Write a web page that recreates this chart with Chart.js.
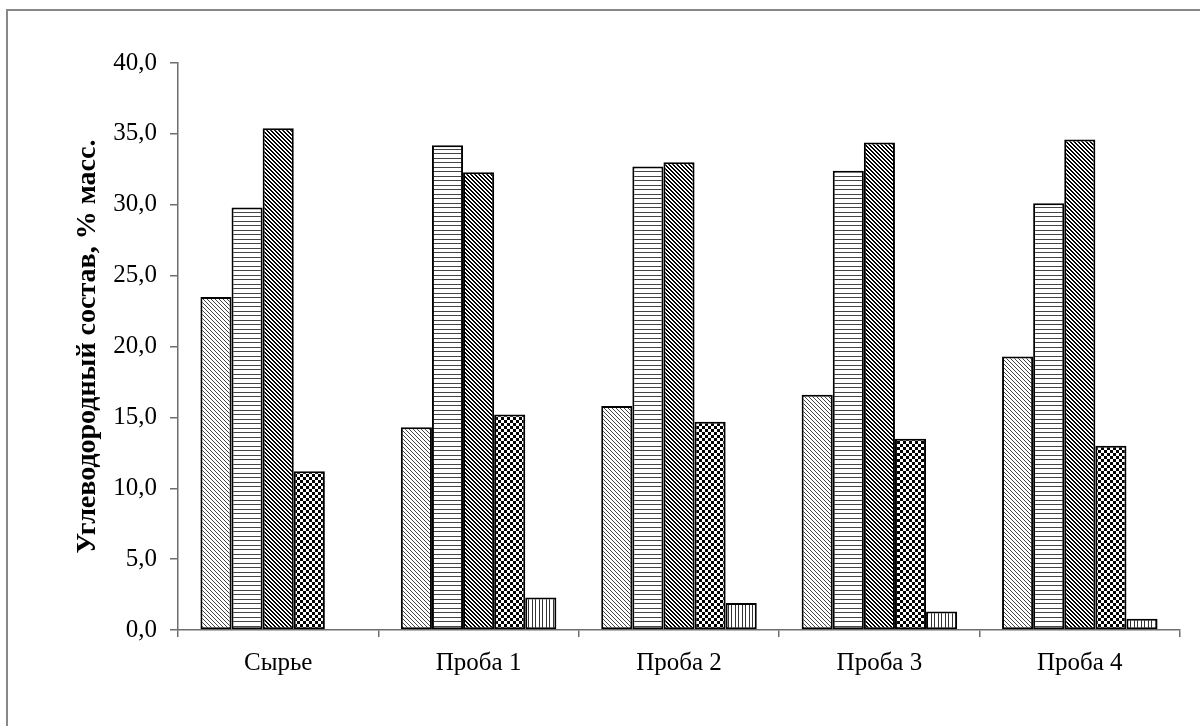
<!DOCTYPE html>
<html><head><meta charset="utf-8">
<script src="https://cdn.jsdelivr.net/npm/chart.js@4/dist/chart.umd.min.js"></script>
<style>html,body{margin:0;padding:0;background:#fff}#wrap{width:1200px;height:726px;position:relative}</style>
</head><body><div id="wrap"><canvas id="c" width="1200" height="726"></canvas></div>
<script>
const categories = ['Сырье', 'Проба 1', 'Проба 2', 'Проба 3', 'Проба 4'];
const series1 = [23.5, 14.3, 15.8, 16.6, 19.3];
const series2 = [29.8, 34.2, 32.7, 32.4, 30.1];
const series3 = [35.4, 32.3, 33.0, 34.4, 34.6];
const series4 = [11.2, 15.2, 14.7, 13.5, 13.0];
const series5 = [0.0, 2.3, 1.9, 1.3, 0.8];
const yTicks = [0, 5, 10, 15, 20, 25, 30, 35, 40];
const yTitle = 'Углеводородный состав, % масс.';

function makePattern(w, h, draw) {
  const c = document.createElement('canvas');
  c.width = w; c.height = h;
  const x = c.getContext('2d');
  x.fillStyle = '#fff'; x.fillRect(0, 0, w, h);
  draw(x);
  return document.getElementById('c').getContext('2d').createPattern(c, 'repeat');
}
const pLightDiag = makePattern(4, 4, x => { x.fillStyle = '#444'; for (let i = 0; i < 4; i++) x.fillRect(i, i, 1, 1); });
const pHoriz = makePattern(4, 9, x => { x.fillStyle = '#444'; x.fillRect(0, 0, 4, 1); x.fillRect(0, 5, 4, 1); });
const pDarkDiag = makePattern(4, 4, x => { x.fillStyle = '#000'; for (let i = 0; i < 4; i++) { x.fillRect(i, i, 1, 1); x.fillRect((i + 1) % 4, i, 1, 1); } });
const pCheck = makePattern(6, 6, x => { x.fillStyle = '#000'; x.fillRect(0, 0, 3, 3); x.fillRect(3, 3, 3, 3); });
const pVert = makePattern(7, 4, x => { x.fillStyle = '#333'; x.fillRect(0, 0, 1, 4); x.fillRect(3, 0, 1, 4); });

const frame = {
  id: 'frame',
  beforeDraw(chart) {
    const ctx = chart.ctx;
    ctx.save();
    ctx.fillStyle = '#fff';
    ctx.fillRect(0, 0, chart.width, chart.height);
    ctx.strokeStyle = '#888';
    ctx.lineWidth = 2;
    ctx.strokeRect(7, 10, 1300, 800);
    ctx.restore();
  }
};

const mk = (label, data, bg) => ({ label, data, backgroundColor: bg, borderColor: '#000', borderWidth: 2, borderSkipped: false, categoryPercentage: 0.776, barPercentage: 1.0 });

new Chart(document.getElementById('c'), {
  type: 'bar',
  data: {
    labels: categories,
    datasets: [
      mk('Ряд 1', series1, pLightDiag),
      mk('Ряд 2', series2, pHoriz),
      mk('Ряд 3', series3, pDarkDiag),
      mk('Ряд 4', series4, pCheck),
      mk('Ряд 5', series5, pVert)
    ]
  },
  options: {
    responsive: false,
    animation: false,
    devicePixelRatio: 1,
    layout: { padding: { left: 0, top: 63, right: 20, bottom: 0 } },
    plugins: { legend: { display: false }, tooltip: { enabled: false } },
    scales: {
      x: {
        afterFit(s) { s.height = 96; },
        grid: { display: true, drawOnChartArea: false, drawTicks: true, tickLength: 7, offset: true, color: '#6e6e6e', lineWidth: 1.5 },
        border: { color: '#6e6e6e', width: 1.5 },
        ticks: { color: '#000', padding: 11, font: { family: 'Liberation Serif', size: 25 } }
      },
      y: {
        min: 0, max: 40,
        afterFit(s) { s.width = 178; },
        afterBuildTicks(s) { s.ticks = yTicks.map(v => ({ value: v })); },
        grid: { display: true, drawOnChartArea: false, drawTicks: true, tickLength: 8, color: '#6e6e6e', lineWidth: 1.5 },
        border: { color: '#6e6e6e', width: 1.5 },
        ticks: { color: '#000', padding: 13, font: { family: 'Liberation Serif', size: 25 }, callback: v => v.toFixed(1).replace('.', ',') },
        title: { display: true, text: yTitle, color: '#000', font: { family: 'Liberation Serif', size: 28, weight: 'bold' }, padding: { top: 71, bottom: 0 } }
      }
    }
  },
  plugins: [frame]
});
</script></body></html>
